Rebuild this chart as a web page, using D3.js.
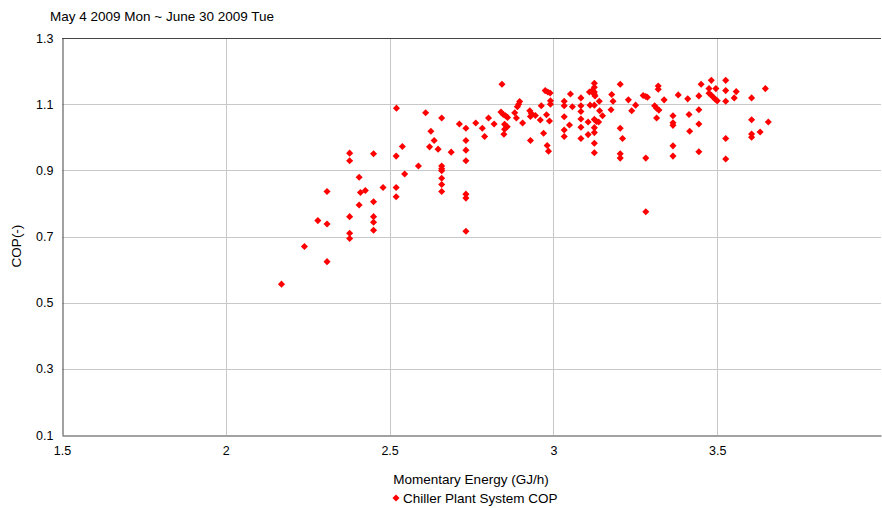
<!DOCTYPE html>
<html><head><meta charset="utf-8">
<script src="https://cdn.jsdelivr.net/npm/d3@7/dist/d3.min.js"></script>
<style>
body{margin:0;background:#fff;}
text{font-family:"Liberation Sans",Arial,sans-serif;fill:#000;}
</style></head>
<body><svg id="c" width="882" height="508"></svg>
<script>
const title = "May 4 2009 Mon ~ June 30 2009 Tue";
const xLabel = "Momentary Energy (GJ/h)";
const yLabel = "COP(-)";
const seriesName = "Chiller Plant System COP";
const xTicks = [1.5, 2, 2.5, 3, 3.5];
const yTicks = [0.1, 0.3, 0.5, 0.7, 0.9, 1.1, 1.3];
const energy = [
2.539,2.378,2.451,2.520,2.378,2.588,2.546,2.407,2.309,2.411,2.426,2.480,2.520,2.520,2.451,2.407,2.378,2.451,2.451,2.451,2.281,2.309,2.378,2.378,2.240,2.309,2.170,
2.521,2.610,2.659,2.713,2.733,2.626,2.636,2.622,2.648,2.688,2.733,2.733,2.733,2.659,2.659,2.659,2.659,2.659,2.659,2.733,2.733,2.733,
2.763,2.783,2.790,2.802,2.819,2.840,2.847,2.854,2.860,2.851,2.859,2.851,2.849,2.882,2.887,2.890,2.894,2.897,2.906,2.930,
2.928,2.933,2.930,2.945,2.963,2.979,2.988,2.960,2.970,2.981,2.985,2.843,2.975,2.983,2.990,2.991,2.991,
3.033,3.033,3.052,3.058,3.033,3.049,3.033,3.033,3.084,3.084,3.084,3.084,3.084,3.084,3.106,3.106,3.110,3.117,3.112,
3.125,3.125,3.125,3.125,3.127,3.125,3.125,3.131,3.125,3.125,3.125,3.125,3.140,3.141,3.138,3.150,3.178,3.182,3.176,
3.204,3.204,3.211,3.204,3.204,3.229,3.239,3.251,3.274,3.282,3.287,3.282,3.282,3.309,3.315,3.322,3.320,3.320,3.315,3.338,
3.365,3.365,3.365,3.365,3.365,3.381,3.410,3.414,3.416,
3.444,3.451,3.444,3.444,3.444,3.475,3.482,3.496,3.475,3.482,3.488,3.494,3.500,3.526,3.526,3.526,3.526,3.526,3.558,3.552,
3.605,3.605,3.605,3.605,3.631,3.647,3.656];
const cop = [
0.972,0.952,0.950,0.943,0.929,0.913,0.889,0.879,0.836,0.833,0.839,0.848,0.848,0.820,0.805,0.795,0.760,0.760,0.743,0.719,0.748,0.738,0.710,0.694,0.670,0.624,0.556,
1.088,1.074,1.058,1.040,1.027,1.018,0.990,0.971,0.964,0.955,0.990,0.961,0.929,0.913,0.905,0.899,0.876,0.857,0.836,0.828,0.816,0.716,
1.043,1.027,1.002,1.058,1.040,1.076,1.069,1.065,1.060,1.039,1.032,1.024,1.009,1.074,1.058,1.092,1.100,1.108,1.043,0.990,
1.080,1.072,1.063,1.066,1.095,1.068,1.049,1.052,1.012,0.975,0.958,1.160,1.141,1.137,1.134,1.110,1.100,
1.109,1.095,1.131,1.092,1.062,1.037,1.022,1.002,1.119,1.095,1.078,1.055,1.030,0.996,1.046,1.008,1.137,1.140,1.097,
1.163,1.151,1.137,1.130,1.125,1.097,1.054,1.048,1.029,1.014,0.982,0.953,1.109,1.080,1.046,1.065,1.129,1.109,1.083,
1.160,1.027,0.996,0.950,0.937,1.113,1.080,1.097,1.126,1.123,1.121,0.937,0.775,1.095,1.088,1.082,1.155,1.145,1.058,1.113,
1.065,1.044,1.036,0.974,0.943,1.128,1.116,1.069,1.018,
1.125,1.160,1.083,1.040,0.956,1.147,1.172,1.147,1.133,1.127,1.121,1.115,1.110,1.172,1.141,1.109,0.996,0.934,1.138,1.119,
1.119,1.053,1.010,1.000,1.016,1.147,1.046];

const svg = d3.select("#c");
const L = 62, R = 881, T = 38, B = 435;
const x = d3.scaleLinear().domain([1.5, 4.0]).range([L, R]);
const y = d3.scaleLinear().domain([0.1, 1.3]).range([B, T]);

// gridlines
svg.append("g").selectAll("line").data(xTicks.slice(1)).join("line")
  .attr("x1", d => Math.round(x(d)) + 0.5).attr("x2", d => Math.round(x(d)) + 0.5)
  .attr("y1", T).attr("y2", B).attr("stroke", "#c8c8c8").attr("stroke-width", 1);
svg.append("g").selectAll("line").data(yTicks.slice(1, -1)).join("line")
  .attr("y1", d => Math.round(y(d)) + 0.5).attr("y2", d => Math.round(y(d)) + 0.5)
  .attr("x1", L).attr("x2", R).attr("stroke", "#c8c8c8").attr("stroke-width", 1);

// axes
const xAxis = d3.axisBottom(x).tickValues(xTicks).tickSize(0).tickPadding(11).tickFormat(d3.format("~g"));
const gx = svg.append("g").attr("transform", `translate(0,${B + 0.5})`).call(xAxis);
const yAxis = d3.axisLeft(y).tickValues(yTicks).tickSize(0).tickPadding(9).tickFormat(d3.format(".1f"));
const gy = svg.append("g").attr("transform", `translate(${L + 0.5},0)`).call(yAxis);
[gx, gy].forEach(g => {
  g.select(".domain").attr("stroke", "#444");
  g.selectAll("text").attr("font-size", 12.5).attr("font-family", "Liberation Sans, Arial, sans-serif").attr("fill", "#000");
});
svg.append("line").attr("x1", L).attr("x2", R).attr("y1", T + 0.5).attr("y2", T + 0.5).attr("stroke", "#444");

// points
const diamond = d3.symbol(d3.symbolSquare, 25);
svg.append("g").selectAll("path").data(energy.map((e, i) => [e, cop[i]])).join("path")
  .attr("d", diamond)
  .attr("transform", d => `translate(${x(d[0])},${y(d[1])}) rotate(45)`)
  .attr("fill", "#ff0000");

// texts
svg.append("text").attr("x", 50).attr("y", 21).attr("font-size", 13.5).text(title);
svg.append("text").attr("transform", "translate(21,246) rotate(-90)").attr("text-anchor", "middle").attr("font-size", 13.5).text(yLabel);
svg.append("text").attr("x", 471).attr("y", 484).attr("text-anchor", "middle").attr("font-size", 13.5).text(xLabel);
const lg = svg.append("g").attr("transform", "translate(396,498)");
lg.append("path").attr("d", diamond).attr("transform", "rotate(45)").attr("fill", "#ff0000");
lg.append("text").attr("x", 7).attr("y", 4.5).attr("font-size", 13.5).text(seriesName);
</script></body></html>
